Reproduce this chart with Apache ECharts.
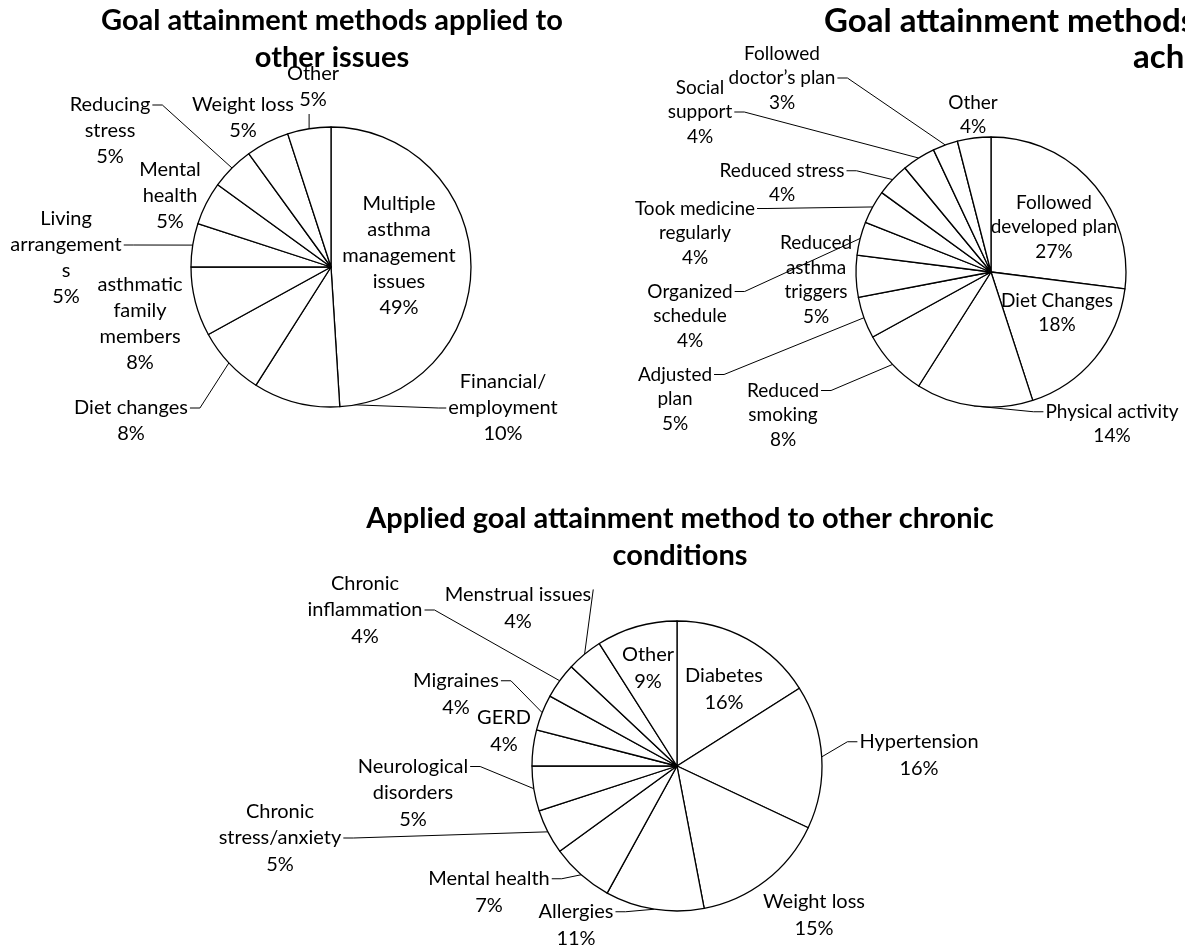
<!DOCTYPE html>
<html>
<head>
<meta charset="utf-8">
<script src="https://cdn.jsdelivr.net/npm/echarts@6/dist/echarts.min.js"></script>
<style>
  html, body { margin: 0; padding: 0; background: #fff; }
  #chart { width: 1185px; height: 950px; }
</style>
</head>
<body>
<div id="chart"></div>
<script>
// Goal attainment methods applied to other issues (share of responses, %)
const otherIssuesNames = [
  'Multiple\nasthma\nmanagement\nissues',
  'Financial/\nemployment',
  'Diet changes',
  'asthmatic\nfamily\nmembers',
  'Living\narrangement\ns',
  'Mental\nhealth',
  'Reducing\nstress',
  'Weight loss',
  'Other'
];
const otherIssuesValues = [49, 10, 8, 8, 5, 5, 5, 5, 5];

// Methods used to reach the goal (%)
const methodNames = [
  'Followed\ndeveloped plan',
  'Diet Changes',
  'Physical activity',
  'Reduced\nsmoking',
  'Adjusted\nplan',
  'Reduced\nasthma\ntriggers',
  'Organized\nschedule',
  'Took medicine\nregularly',
  'Reduced stress',
  'Social\nsupport',
  'Followed\ndoctor\u2019s plan',
  'Other'
];
const methodValues = [27, 18, 14, 8, 5, 5, 4, 4, 4, 4, 3, 4];

// Other chronic conditions the method was applied to (%)
const chronicNames = [
  'Diabetes',
  'Hypertension',
  'Weight loss',
  'Allergies',
  'Mental health',
  'Chronic\nstress/anxiety',
  'Neurological\ndisorders',
  'GERD',
  'Migraines',
  'Chronic\ninflammation',
  'Menstrual issues',
  'Other'
];
const chronicValues = [16, 16, 15, 11, 7, 5, 5, 4, 4, 4, 4, 9];

// Label placement: centre of each text block (px)
const otherIssuesLabelPos = [[399, 256], [503, 408], [131, 421], [140, 324], [66, 258], [170, 196], [110, 131], [243, 118], [313, 87]];
const methodLabelPos = [[1054, 227], [1057, 313], [1112, 424], [783, 415], [675, 399], [816, 280], [690, 316], [695, 233], [782, 183], [700, 112], [782, 78], [973, 115]];
const chronicLabelPos = [[724, 689], [919, 755], [814, 915], [576, 925], [489, 892], [280, 838], [413, 793], [504, 731], [456, 694], [365, 610], [518, 608], [648, 668]];

// Leader lines: [side of the text block, line position in text lines from the top, stub length]; null = no leader
const otherIssuesLeaders = [null, ['l', 1.5, 8], ['r', 0.5, 10], null, ['r', 1.5, 10], null, ['r', 0.5, 10], null, ['b', 0, 0]];
const methodLeaders = [null, null, ['l', 0.5, 10], ['r', 0.5, 10], ['r', 0.5, 10], null, ['r', 0.5, 10], ['r', 0.5, 10], ['r', 0.5, 10], ['r', 1.5, 10], ['r', 1.5, 10], null];
const chronicLeaders = [null, ['l', 0.5, 10], null, ['r', 0.5, 10], ['r', 0.5, 10], ['r', 1.5, 10], ['r', 0.5, 10], null, ['r', 0.5, 10], ['r', 1.5, 10], ['r', 0.3, 0], null];

const FONT = 'Lato, "Open Sans", sans-serif';

function pieSeries(names, values, center, radius, fontSize, lineHeight, labelPos, leaders) {
  return {
    type: 'pie',
    center: center,
    radius: radius,
    startAngle: 90,
    clockwise: true,
    avoidLabelOverlap: false,
    silent: true,
    animation: false,
    itemStyle: { color: '#fff', borderColor: '#000', borderWidth: 1.3 },
    label: {
      show: true,
      position: 'outside',
      formatter: function (p) { return p.name + '\n' + p.value + '%'; },
      color: '#000',
      fontFamily: FONT,
      fontSize: fontSize,
      lineHeight: lineHeight,
      align: 'center'
    },
    labelLine: { show: true, length: 8, length2: 10, lineStyle: { color: '#000', width: 1 } },
    labelLayout: function (params) {
      const p = labelPos[params.dataIndex];
      const out = { x: p[0], y: p[1], align: 'center', verticalAlign: 'middle' };
      const spec = leaders[params.dataIndex];
      if (spec && params.labelLinePoints) {
        // start of the leader: point on the arc at the slice's mid angle (from the pie layout)
        const start = params.labelLinePoints[0];
        const w = params.labelRect.width, h = params.labelRect.height;
        const left = p[0] - w / 2, right = p[0] + w / 2, top = p[1] - h / 2, bottom = p[1] + h / 2;
        let end, bend;
        if (spec[0] === 'b') {
          end = [start[0], bottom + 1];
          bend = end.slice();
        } else {
          const yy = top + spec[1] * lineHeight;
          const dir = spec[0] === 'r' ? 1 : -1;
          const ex = (spec[0] === 'r' ? right : left) + dir * 2;
          end = [ex, yy];
          bend = [ex + dir * spec[2], yy];
        }
        out.labelLinePoints = [start.slice(), bend, end];
      }
      return out;
    },
    data: names.map(function (n, i) {
      return { name: n, value: values[i], labelLine: { show: leaders[i] != null } };
    })
  };
}

const titleStyle = { fontFamily: FONT, fontWeight: 'bold', fontSize: 29, lineHeight: 37, color: '#000' };
const bigTitleStyle = { fontFamily: FONT, fontWeight: 'bold', fontSize: 33, lineHeight: 34, color: '#000' };

const chart = echarts.init(document.getElementById('chart'), null, { renderer: 'canvas' });
chart.setOption({
  backgroundColor: '#fff',
  animation: false,
  title: [
    { text: 'Goal attainment methods applied to\nother issues', left: 332, top: 2, textAlign: 'center', padding: 0, textStyle: titleStyle },
    { text: 'Goal attainment methods used for goal', left: 824, top: 4, padding: 0, textStyle: bigTitleStyle },
    { text: 'achievement', left: 1133, top: 40, padding: 0, textStyle: bigTitleStyle },
    { text: 'Applied goal attainment method to other chronic\nconditions', left: 680, top: 500, textAlign: 'center', padding: 0, textStyle: titleStyle }
  ],
  series: [
    pieSeries(otherIssuesNames, otherIssuesValues, [331, 267], 140, 20, 26, otherIssuesLabelPos, otherIssuesLeaders),
    pieSeries(methodNames, methodValues, [991, 272], 135, 19, 24.5, methodLabelPos, methodLeaders),
    pieSeries(chronicNames, chronicValues, [677, 766], 145, 20, 26.5, chronicLabelPos, chronicLeaders)
  ]
});
</script>
</body>
</html>
